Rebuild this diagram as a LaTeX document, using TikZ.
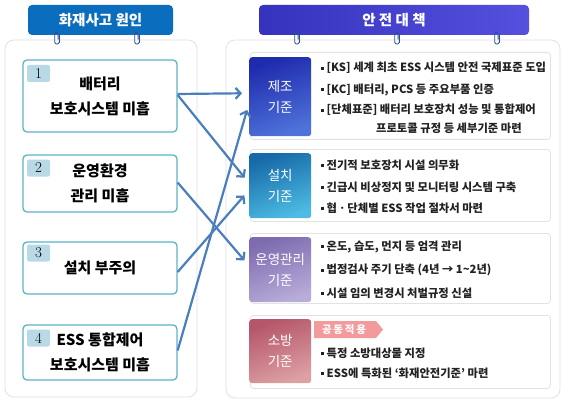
\documentclass[tikz,border=0pt]{standalone}
\usepackage{fontspec}
\setmainfont{Noto Sans CJK KR}
\newfontfamily\kr{Noto Sans CJK KR}
\usetikzlibrary{arrows.meta,calc}
\definecolor{hdrL}{HTML}{0B6DBD}
\definecolor{hdrRa}{HTML}{3533BE}
\definecolor{hdrRb}{HTML}{5550DE}
\definecolor{panelc}{HTML}{E2E2E2}
\definecolor{causec}{HTML}{5BB5C8}
\definecolor{badgec}{HTML}{B9D9E7}
\definecolor{arrc}{HTML}{4A7EBE}
\definecolor{clipc}{HTML}{2B4F8E}
\definecolor{kAa}{HTML}{1F2BAE}\definecolor{kAb}{HTML}{4F72DA}
\definecolor{kBa}{HTML}{166AA8}\definecolor{kBb}{HTML}{4DBBE3}
\definecolor{kCa}{HTML}{7F6BB0}\definecolor{kCb}{HTML}{B8ACD8}
\definecolor{kDa}{HTML}{B5566A}\definecolor{kDb}{HTML}{DDA0A4}
\definecolor{tagc}{HTML}{F39A9C}
\definecolor{txtc}{HTML}{222222}
\newcommand{\bul}{\raisebox{2pt}{\rule{3pt}{3pt}}\hspace{2.5pt}}
\begin{document}
\begin{tikzpicture}[x=1pt,y=-1pt,
  panel/.style={draw=panelc,line width=0.8pt,rounded corners=9pt,fill=white},
  hdr/.style={rounded corners=4pt,text=white,font=\kr\bfseries\fontsize{14.5}{16}\selectfont,inner sep=0pt},
  cause/.style={draw=causec,line width=1.3pt,rounded corners=4pt,fill=white,minimum width=154pt,
    align=center,font=\kr\bfseries\fontsize{15}{25}\selectfont,text=black,inner sep=0pt},
  badge/.style={fill=badgec,rounded corners=2pt,minimum width=23pt,minimum height=17pt,inner sep=0pt,
    font=\fontspec{Latin Modern Roman}\fontsize{15}{15}\selectfont},
  cbox/.style={draw=panelc,line width=0.8pt,rounded corners=3pt,fill=white,anchor=north west,minimum width=300pt,inner sep=0pt},
  cat/.style={rounded corners=3pt,anchor=north west,minimum width=62pt,inner sep=0pt,align=center,text=white,
    font=\kr\fontsize{13.5}{21}\selectfont},
  item/.style={anchor=west,inner sep=0pt,text=txtc,font=\kr\bfseries\fontsize{11.3}{13}\selectfont},
  arr/.style={draw=arrc,line width=2.2pt,-{Straight Barb[length=5pt,width=11pt]},shorten >=7pt},
  pclip/.pic={\draw[clipc,line width=0.9pt,rounded corners=1.6pt] (1,2.5) -- (1,-5) -- (-2.3,-5) -- (-2.3,7) -- (2.4,7) -- (2.4,-2);}
]
\useasboundingbox (0,0) rectangle (569,406);
\fill[white] (0,0) rectangle (569,406);

% panels
\draw[panel] (5,40) rectangle (197,397);
\draw[panel] (226,40) rectangle (560,398);

% headers
\node[hdr,fill=hdrL,minimum width=145pt,minimum height=30pt] (hl) at (100.5,20) {화재사고 원인};
\node[hdr,left color=hdrRa,right color=hdrRb,minimum width=270pt,minimum height=30pt] (hr) at (394,20) {안 전 대 책};

% clips
\pic at (57,37) {pclip};
\pic at (137,37) {pclip};
\pic at (297,37) {pclip};
\pic at (397,37) {pclip};
\pic at (497,37) {pclip};

% cause boxes
\node[cause,minimum height=72pt] (b1) at (100,96) {배터리\\보호시스템 미흡};
\node[cause,minimum height=57pt] (b2) at (100,183.5) {운영환경\\관리 미흡};
\node[cause,minimum height=52pt] (b3) at (100,268) {설치 부주의};
\node[cause,minimum height=55pt] (b4) at (100,352.5) {ESS 통합제어\\보호시스템 미흡};
\node[badge] (n1) at (38.5,73.5) {1};
\node[badge] (n2) at (38.5,168) {2};
\node[badge] (n3) at (38.5,253) {3};
\node[badge] (n4) at (38.5,338) {4};

% content boxes
\node[cbox,minimum height=87pt] (c1) at (250,52) {};
\node[cbox,minimum height=72pt] (c2) at (250,149) {};
\node[cbox,minimum height=70pt] (c3) at (250,233) {};
\node[cbox,minimum height=73pt] (c4) at (250,315) {};

% category boxes
\node[cat,minimum height=79pt,top color=kAa,bottom color=kAb,shading angle=20] (k1) at (249,57) {제조\\기준};
\node[cat,minimum height=65pt,top color=kBa,bottom color=kBb,shading angle=20] (k2) at (249,153) {설치\\기준};
\node[cat,minimum height=65pt,top color=kCa,bottom color=kCb,shading angle=20] (k3) at (249,237) {운영관리\\기준};
\node[cat,minimum height=64pt,top color=kDa,bottom color=kDb,shading angle=20] (k4) at (249,319) {소방\\기준};

% items
\node[item] (t11) at (321,68) {\bul[KS] 세계 최초 ESS 시스템 안전 국제표준 도입};
\node[item] (t12) at (321,90) {\bul[KC] 배터리, PCS 등 주요부품 인증};
\node[item] (t13) at (321,110) {\bul[단체표준] 배터리 보호장치 성능 및 통합제어};
\node[item] (t14) at (376,128) {프로토콜 규정 등 세부기준 마련};
\node[item] (t21) at (321,165) {\bul 전기적 보호장치 시설 의무화};
\node[item] (t22) at (321,187) {\bul 긴급시 비상정지 및 모니터링 시스템 구축};
\node[item] (t23) at (321,208) {\bul 협ㆍ단체별 ESS 작업 절차서 마련};
\node[item] (t31) at (321,247) {\bul 온도, 습도, 먼지 등 엄격 관리};
\node[item] (t32) at (321,270) {\bul 법정검사 주기 단축 (4년 → 1\char"7E 2년)};
\node[item] (t33) at (321,293) {\bul 시설 임의 변경시 처벌규정 신설};
\node[item] (t41) at (321,353) {\bul 특정 소방대상물 지정};
\node[item] (t42) at (321,373) {\bul ESS에 특화된 ‘화재안전기준’ 마련};

% tag
\fill[tagc] (314,321) -- (376,321) -- (383,329.5) -- (376,338) -- (314,338) -- cycle;
\node[inner sep=0pt,text=white,font=\kr\bfseries\fontsize{10.5}{12}\selectfont] (tag) at (344,329.5) {공\,동\,적\,용};

% arrows
\draw[arr] ($(b1.east)+(0,-2)$) -- ($(k1.west)+(0,-3.5)$);
\draw[arr] ($(b1.east)+(0,-1)$) -- ($(k2.west)+(0,-2.5)$);
\draw[arr] ($(b2.east)+(0,-1)$) -- ($(k3.west)+(0,-4)$);
\draw[arr] ($(b3.east)+(0,4)$) -- ($(k2.west)+(0,4.5)$);
\draw[arr] ($(b4.east)+(0,-2)$) -- ($(k1.west)+(0,6.5)$);
\end{tikzpicture}
\end{document}
